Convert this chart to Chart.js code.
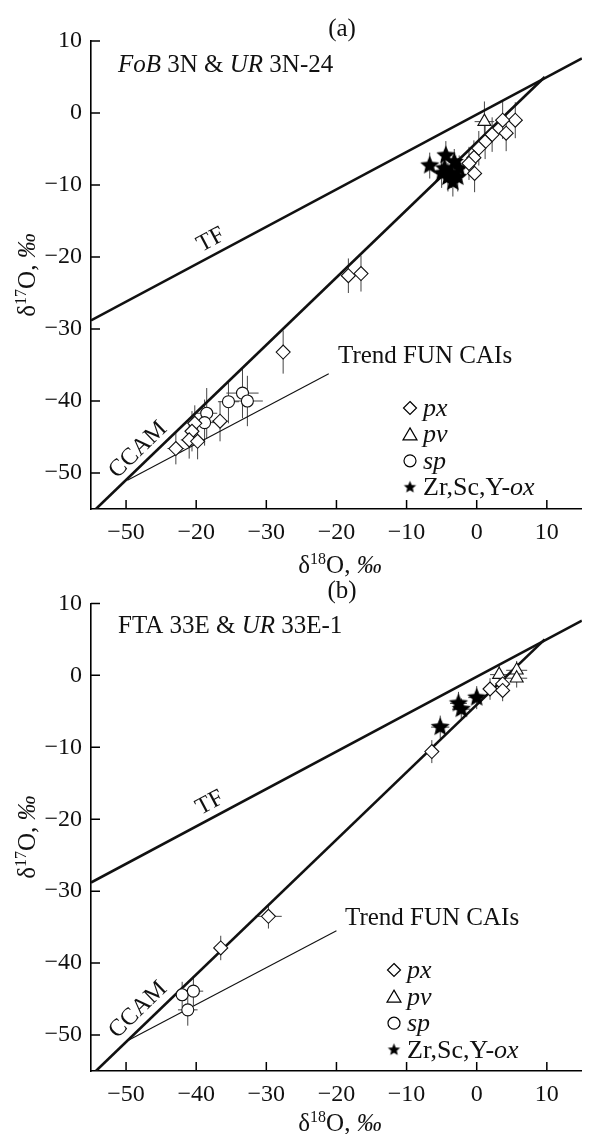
<!DOCTYPE html>
<html>
<head>
<meta charset="utf-8">
<script src="https://cdn.jsdelivr.net/npm/chart.js@4.4.1/dist/chart.umd.min.js"></script>
<style>
  html, body { margin: 0; padding: 0; background: #fff; overflow: hidden; }
  canvas { position: absolute; left: 0; display: block; }
</style>
</head>
<body>
<canvas id="chartA" width="593" height="580" style="top:0;width:593px;height:580px"></canvas>
<canvas id="chartB" width="593" height="554" style="top:580px;width:593px;height:554px"></canvas>
<script>
// axes
const xTicks = [-50, -40, -30, -20, -10, 0, 10];
const xTickLabelsA = ['−50', '−20', '−30', '−20', '−10', '0', '10']; // as printed in panel (a)
const xTickLabelsB = ['−50', '−40', '−30', '−20', '−10', '0', '10'];
const yTicks = [-50, -40, -30, -20, -10, 0, 10];
const yTickLabels = ['−50', '−40', '−30', '−20', '−10', '0', '10'];

// reference lines [x, y]
const tfLine = [[-55, -28.8], [15, 7.6]];
const ccamLine = [[-54.3, -55], [9.7, 5.0]];
const funLineA = [[-49.8, -51.0], [-21.1, -36.2]];
const funLineB = [[-49.8, -50.8], [-20.0, -35.5]];

// points [d18O, d17O, err18, err17]
const pxA = [
  [5.5, -1.0, 1.0, 2.5], [3.7, -1.0, 0.9, 2.6], [4.2, -2.8, 0.9, 2.5],
  [2.2, -3.0, 0.8, 2.4], [1.2, -4.0, 0.8, 2.4], [0.3, -4.9, 0.8, 2.4],
  [-0.4, -6.2, 0.8, 2.4], [-1.1, -7.0, 0.8, 2.3], [-0.3, -8.4, 0.8, 2.6],
  [-18.3, -22.6, 1.0, 2.4], [-16.5, -22.3, 0.9, 2.5], [-27.6, -33.2, 0.8, 3.0],
  [-36.6, -42.8, 1.2, 2.8], [-40.2, -43.1, 1.0, 2.5], [-40.6, -44.2, 1.0, 2.8],
  [-41.0, -45.4, 1.2, 2.6], [-39.8, -45.6, 1.0, 2.5], [-42.9, -46.6, 1.2, 2.2]
];
const pvA = [[1.1, -1.2, 1.4, 2.8]];
const spA = [
  [-33.4, -38.9, 2.3, 3.5], [-32.7, -40.0, 2.2, 3.5], [-35.4, -40.1, 1.5, 3.0],
  [-38.5, -41.7, 1.5, 3.5], [-38.8, -43.0, 1.6, 3.2]
];
const oxA = [
  [-6.7, -7.3, 0.7, 1.8], [-4.4, -5.9, 0.8, 2.0], [-4.6, -7.7, 0.8, 2.0],
  [-3.6, -8.4, 0.8, 2.0], [-3.2, -6.8, 0.8, 1.8], [-4.1, -8.9, 0.8, 2.0],
  [-2.7, -8.9, 0.8, 2.0], [-2.5, -7.7, 0.8, 1.8], [-5.0, -8.4, 0.8, 2.0],
  [-3.4, -9.6, 0.8, 2.0]
];

const pxB = [
  [-6.4, -10.6, 0.8, 1.6], [-36.5, -37.9, 0.8, 1.7], [-29.7, -33.5, 1.9, 1.7],
  [1.9, -1.9, 0.9, 1.5], [3.7, -1.2, 0.9, 1.5], [3.7, -2.1, 0.9, 1.5]
];
const pvB = [[3.2, 0.1, 1.3, 1.2], [5.7, 0.7, 1.5, 1.3], [5.7, -0.4, 1.5, 1.3]];
const spB = [[-42.0, -44.4, 0.9, 1.8], [-40.4, -43.9, 1.4, 2.0], [-41.2, -46.5, 1.4, 2.2]];
const oxB = [[-5.2, -7.2, 1.3, 1.6], [-2.6, -3.9, 1.2, 1.6], [-2.2, -4.7, 1.3, 1.5], [0.0, -3.1, 1.2, 1.6]];

const SERIF = "'Liberation Serif', 'Times New Roman', serif";
Chart.defaults.font.family = SERIF;
Chart.defaults.color = '#111';

function makeStar(r) {
  const c = document.createElement('canvas');
  const s = Math.ceil(r * 2 + 2);
  c.width = c.height = s;
  const g = c.getContext('2d');
  g.beginPath();
  for (let i = 0; i < 10; i++) {
    const a = -Math.PI / 2 + i * Math.PI / 5;
    const rr = i % 2 ? r * 0.45 : r;
    g.lineTo(s / 2 + rr * Math.cos(a), s / 2 + rr * Math.sin(a));
  }
  g.closePath();
  g.fillStyle = '#000';
  g.fill();
  return c;
}
const starBig = makeStar(10);
const starSmall = makeStar(6.5);

// draw text made of runs (italic / superscript)
function richText(ctx, runs, x, y, size, align) {
  const font = r => (r.it ? 'italic ' : '') + Math.round(r.sup ? size * 0.65 : size) + 'px ' + SERIF;
  let w = 0;
  runs.forEach(r => { ctx.font = font(r); w += ctx.measureText(r.t).width; });
  let cx = align === 'center' ? x - w / 2 : x;
  ctx.textAlign = 'left';
  ctx.textBaseline = 'alphabetic';
  runs.forEach(r => {
    ctx.font = font(r);
    ctx.fillText(r.t, cx, r.sup ? y - size * 0.38 : y);
    cx += ctx.measureText(r.t).width;
  });
}

function marker(ctx, kind, x, y) {
  ctx.save();
  ctx.lineWidth = 1.2;
  ctx.strokeStyle = '#000';
  ctx.fillStyle = '#fff';
  ctx.beginPath();
  if (kind === 'px') {
    ctx.moveTo(x, y - 6.5); ctx.lineTo(x + 6.5, y); ctx.lineTo(x, y + 6.5); ctx.lineTo(x - 6.5, y); ctx.closePath();
  } else if (kind === 'pv') {
    ctx.moveTo(x, y - 6.5); ctx.lineTo(x + 7, y + 5.5); ctx.lineTo(x - 7, y + 5.5); ctx.closePath();
  } else if (kind === 'sp') {
    ctx.arc(x, y, 6, 0, Math.PI * 2);
  }
  if (kind === 'ox') {
    ctx.drawImage(starSmall, x - starSmall.width / 2, y - starSmall.height / 2);
  } else {
    ctx.fill(); ctx.stroke();
  }
  ctx.restore();
}

const errorBars = {
  id: 'errorBars',
  beforeDatasetsDraw(chart) {
    const { ctx, scales: { x, y } } = chart;
    ctx.save();
    ctx.strokeStyle = '#444';
    ctx.lineWidth = 1;
    chart.data.datasets.forEach(ds => {
      if (!ds.errors) return;
      ds.errors.forEach(p => {
        const cx = x.getPixelForValue(p[0]);
        const cy = y.getPixelForValue(p[1]);
        const x0 = x.getPixelForValue(p[0] - p[2]), x1 = x.getPixelForValue(p[0] + p[2]);
        const y0 = y.getPixelForValue(p[1] - p[3]), y1 = y.getPixelForValue(p[1] + p[3]);
        ctx.beginPath();
        ctx.moveTo(x0, cy); ctx.lineTo(x1, cy);
        ctx.moveTo(cx, y0); ctx.lineTo(cx, y1);
        ctx.stroke();
      });
    });
    ctx.restore();
  }
};

// inward tick marks plus all the printed labels
const decorations = {
  id: 'decorations',
  afterDraw(chart) {
    const o = chart.options.plugins.decorations;
    const { ctx, chartArea: a, scales: { x, y } } = chart;
    ctx.save();
    ctx.strokeStyle = '#000';
    ctx.lineWidth = 1.5;
    ctx.beginPath();
    xTicks.forEach(v => { const p = x.getPixelForValue(v); ctx.moveTo(p, a.bottom); ctx.lineTo(p, a.bottom - 9); });
    yTicks.forEach(v => { const p = y.getPixelForValue(v); ctx.moveTo(a.left, p); ctx.lineTo(a.left + 9, p); });
    ctx.stroke();

    ctx.fillStyle = '#111';
    ctx.font = '25px ' + SERIF;
    ctx.textAlign = 'center';
    ctx.textBaseline = 'middle';
    ctx.fillText(o.letter, 342, o.letterY);

    richText(ctx, o.title, 118, o.titleY, 25, 'left');
    richText(ctx, [{ t: 'δ' }, { t: '18', sup: 1 }, { t: 'O, ' }, { t: '‰', it: 1 }], 340, o.xTitleY, 25, 'center');

    ctx.save();
    ctx.translate(27, (a.top + a.bottom) / 2);
    ctx.rotate(-Math.PI / 2);
    richText(ctx, [{ t: 'δ' }, { t: '17', sup: 1 }, { t: 'O, ' }, { t: '‰', it: 1 }], 0, 8, 25, 'center');
    ctx.restore();

    const ang = (line) => Math.atan2(
      y.getPixelForValue(line[1][1]) - y.getPixelForValue(line[0][1]),
      x.getPixelForValue(line[1][0]) - x.getPixelForValue(line[0][0]));
    ctx.font = '24px ' + SERIF;
    ctx.textAlign = 'center';
    ctx.textBaseline = 'middle';
    [[ 'TF', tfLine, o.tf ], [ 'CCAM', ccamLine, o.ccam ]].forEach(([txt, line, pos]) => {
      ctx.save();
      ctx.translate(pos[0], pos[1]);
      ctx.rotate(ang(line));
      ctx.fillText(txt, 0, 0);
      ctx.restore();
    });
    ctx.textAlign = 'left';
    ctx.textBaseline = 'alphabetic';
    ctx.font = '25px ' + SERIF;
    ctx.fillText('Trend FUN CAIs', o.trend[0], o.trend[1]);

    const L = o.legend;
    const rows = [
      ['px', [{ t: 'px', it: 1 }]],
      ['pv', [{ t: 'pv', it: 1 }]],
      ['sp', [{ t: 'sp', it: 1 }]],
      ['ox', [{ t: 'Zr,Sc,Y-' }, { t: 'ox', it: 1 }]]
    ];
    rows.forEach((r, i) => {
      const cy = L.y + i * L.dy;
      marker(ctx, r[0], L.x, cy);
      ctx.fillStyle = '#111';
      richText(ctx, r[1], L.x + 13, cy + 8, 26, 'left');
    });
    ctx.restore();
  }
};

function pts(arr) { return arr.map(p => ({ x: p[0], y: p[1] })); }

function makeChart(id, cfg) {
  const lineDs = (data, w) => ({
    data: pts(data), showLine: true, borderColor: '#111', borderWidth: w,
    pointRadius: 0, fill: false, order: 5
  });
  const mk = (data, style, r) => ({
    data: pts(data), errors: data, showLine: false, pointStyle: style, pointRadius: r,
    backgroundColor: '#fff', borderColor: '#111', borderWidth: 1.1, order: 1
  });
  return new Chart(document.getElementById(id), {
    type: 'scatter',
    data: {
      datasets: [
        lineDs(tfLine, 2.6),
        lineDs(ccamLine, 2.6),
        lineDs(cfg.fun, 1.1),
        mk(cfg.px, 'rectRot', 7),
        mk(cfg.pv, 'triangle', 7.5),
        mk(cfg.sp, 'circle', 6),
        { ...mk(cfg.ox, starBig, 10), backgroundColor: '#000' }
      ]
    },
    options: {
      responsive: false,
      animation: false,
      devicePixelRatio: 1,
      layout: { padding: { top: cfg.top, right: 0, left: 0, bottom: 0 } },
      plugins: {
        legend: { display: false },
        tooltip: { enabled: false },
        decorations: cfg.deco
      },
      scales: {
        x: {
          type: 'linear', min: -55, max: 15,
          afterBuildTicks: s => { s.ticks = xTicks.map(v => ({ value: v })); },
          afterFit: s => { s.height = cfg.bottomH; },
          ticks: { padding: 9, font: { size: 24 }, color: '#111',
            callback: v => cfg.xLabels[xTicks.indexOf(v)] },
          grid: { display: false, drawTicks: false },
          border: { display: true, color: '#000', width: 1.6 }
        },
        y: {
          type: 'linear', min: -55, max: 10,
          afterBuildTicks: s => { s.ticks = yTicks.map(v => ({ value: v })); },
          afterFit: s => { s.width = 91; },
          ticks: { padding: 9, font: { size: 24 }, color: '#111',
            callback: v => yTickLabels[yTicks.indexOf(v)] },
          grid: { display: false, drawTicks: false },
          border: { display: true, color: '#000', width: 1.6 }
        }
      }
    },
    plugins: [errorBars, decorations]
  });
}

makeChart('chartA', {
  top: 41, bottomH: 71, fun: funLineA, xLabels: xTickLabelsA,
  px: pxA, pv: pvA, sp: spA, ox: oxA,
  deco: {
    letter: '(a)', letterY: 29, titleY: 72, xTitleY: 573,
    title: [{ t: 'FoB', it: 1 }, { t: ' 3N & ' }, { t: 'UR', it: 1 }, { t: ' 3N-24' }],
    tf: [211, 240], ccam: [138, 450], trend: [338, 363],
    legend: { x: 410, y: 408, dy: 26.4 }
  }
});

makeChart('chartB', {
  top: 23, bottomH: 63, fun: funLineB, xLabels: xTickLabelsB,
  px: pxB, pv: pvB, sp: spB, ox: oxB,
  deco: {
    letter: '(b)', letterY: 11, titleY: 53, xTitleY: 551,
    title: [{ t: 'FTA 33E & ' }, { t: 'UR', it: 1 }, { t: ' 33E-1' }],
    tf: [210, 223], ccam: [138, 430], trend: [345, 345],
    legend: { x: 394, y: 390, dy: 26.6 }
  }
});
</script>
</body>
</html>
